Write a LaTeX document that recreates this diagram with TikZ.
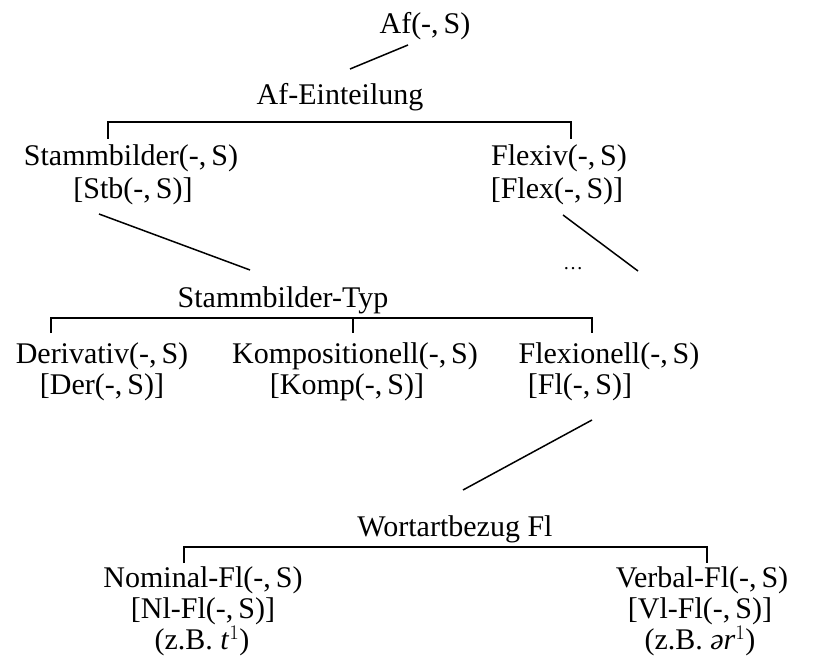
\documentclass[tikz,border=0pt]{standalone}
\usepackage{fontspec}
\setmainfont{Liberation Serif}
\begin{document}
\begin{tikzpicture}[x=1pt,y=-1pt,
  lbl/.style={anchor=base,inner sep=0pt,font=\fontsize{30}{31}\selectfont},
  edge/.style={line width=1.5pt},
  brk/.style={line width=1.3pt}]
\useasboundingbox (0,0) rectangle (813,663);

% ---- level 0 ----
\node[lbl] (af) at (425,34) {Af(-,\,S)};
\node[lbl] (afe) at (340,105) {Af-Einteilung};
\coordinate (af-lo) at (408,45);
\coordinate (afe-up) at (350,69);
\draw[edge] (af-lo) -- (afe-up);

% ---- level 1 ----
\node[lbl] (stb) at (131,166) {Stammbilder(-,\,S)};
\node[lbl] (stbk) at (133,198) {[Stb(-,\,S)]};
\node[lbl] (flv) at (559,166) {Flexiv(-,\,S)};
\node[lbl] (flvk) at (557,198) {[Flex(-,\,S)]};
\coordinate (b1) at (337,122);
\coordinate (b1l) at (108,139);
\coordinate (b1r) at (571,139);
\draw[brk] (b1l) |- (b1) -| (b1r);

\coordinate (stb-lo) at (99,214);
\coordinate (sbt-up) at (250,270);
\draw[edge] (stb-lo) -- (sbt-up);
\coordinate (flv-lo) at (563,215);
\coordinate (flv-end) at (638,271);
\draw[edge] (flv-lo) -- (flv-end);
\node[lbl,font=\fontsize{20}{20}\selectfont] (dots) at (573,269) {\dots};

% ---- level 2 ----
\node[lbl] (sbt) at (283,307) {Stammbilder-Typ};
\coordinate (b2) at (353,318);
\coordinate (b2l) at (51,333);
\coordinate (b2m) at (353,333);
\coordinate (b2r) at (592,333);
\draw[brk] (b2l) |- (b2) -| (b2r);
\draw[brk] (b2) -- (b2m);

\node[lbl] (der) at (102,363) {Derivativ(-,\,S)};
\node[lbl] (derk) at (102,394) {[Der(-,\,S)]};
\node[lbl] (kmp) at (355,363) {Kompositionell(-,\,S)};
\node[lbl] (kmpk) at (347,394) {[Komp(-,\,S)]};
\node[lbl] (fxn) at (609,363) {Flexionell(-,\,S)};
\node[lbl] (fxnk) at (580,394) {[Fl(-,\,S)]};

\coordinate (fxn-lo) at (592,420);
\coordinate (wab-up) at (463,490);
\draw[edge] (fxn-lo) -- (wab-up);

% ---- level 3 ----
\node[lbl] (wab) at (455,536) {Wortartbezug Fl};
\coordinate (b3) at (445,547);
\coordinate (b3l) at (184,563);
\coordinate (b3r) at (707,563);
\draw[brk] (b3l) |- (b3) -| (b3r);

\node[lbl] (nom) at (203,587) {Nominal-Fl(-,\,S)};
\node[lbl] (nomk) at (203,618) {[Nl-Fl(-,\,S)]};
\node[lbl] (nomb) at (202,649) {(z.B. \textit{t}$^{1}$)};
\node[lbl] (vrb) at (702,587) {Verbal-Fl(-,\,S)};
\node[lbl] (vrbk) at (700,618) {[Vl-Fl(-,\,S)]};
\node[lbl] (vrbb) at (700,649) {(z.B. \textit{ər}$^{1}$)};
\end{tikzpicture}
\end{document}
